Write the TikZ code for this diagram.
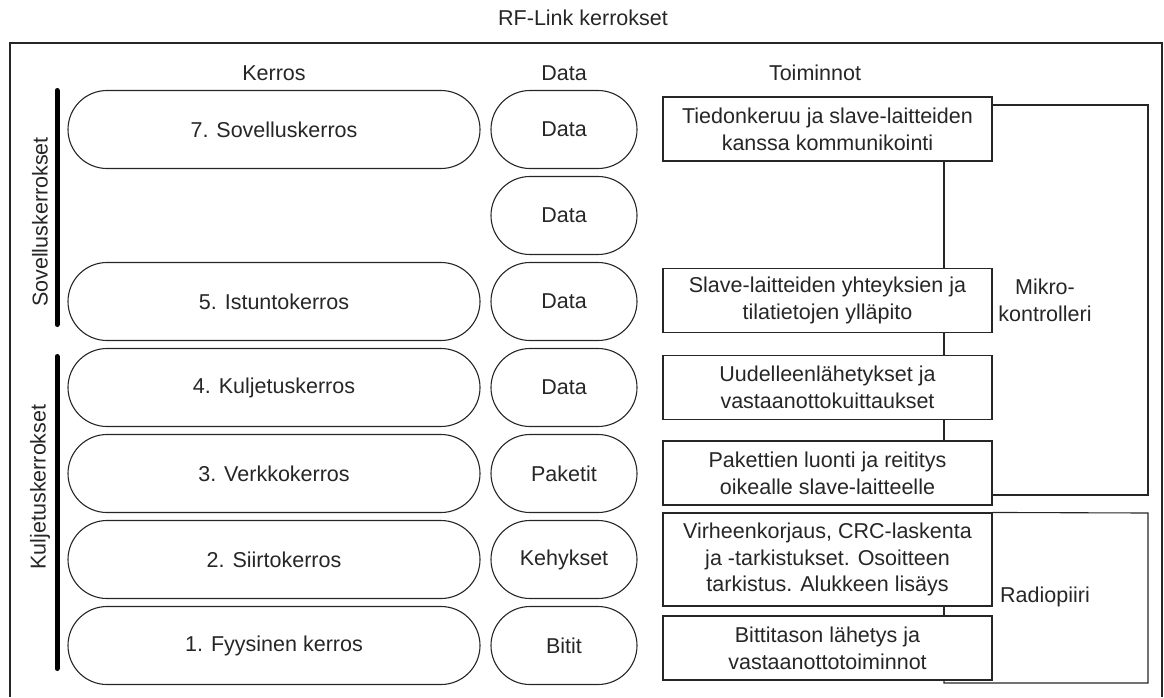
\documentclass[tikz,border=0pt]{standalone}
\usepackage{fontspec}
\setmainfont{Liberation Sans}
\usetikzlibrary{calc}

\begin{document}
\begin{tikzpicture}[x=1pt,y=-1pt,font=\fontsize{21.5}{26.7}\selectfont,text=black!85]
                      \tikzstyle{layer}=[draw=black!85,line width=1.1pt,rounded corners=39pt,minimum width=412pt,minimum height=78pt,inner sep=0pt]
                      \tikzstyle{unit}=[layer,minimum width=146pt]
                      \tikzstyle{func}=[draw=black!85,line width=1.1pt,minimum width=329pt,minimum height=64pt,inner sep=0pt,align=center]
                      \tikzstyle{bar}=[line width=5pt,line cap=round]
                      \useasboundingbox (0,0) rectangle (1164,697);
                      % frame and headers
                      \draw[line width=1.1pt,draw=black!85] (10,697) -- (10,43) -- (1162,43) -- (1162,697);
                      \node (title) at (583,18) {RF-Link kerrokset};
                      \node (hk) at (274,73) {Kerros};
                      \node (hd) at (564,73) {Data};
                      \node (ht) at (815,73) {Toiminnot};
                      % layers
                      \node[layer] (k7) at (274,129.5) {7. Sovelluskerros};
                      \node[layer] (k5) at (274,301.5) {5. Istuntokerros};
                      \node[layer] (k4) at (274,387.5) {4. Kuljetuskerros};
                      \node[layer] (k3) at (274,473.5) {3. Verkkokerros};
                      \node[layer] (k2) at (274,559.5) {2. Siirtokerros};
                      \node[layer] (k1) at (274,645.5) {1. Fyysinen kerros};
                      % data units
                      \node[unit] (d7) at (564,129.5) {Data};
                      \node[unit] (d6) at (564,215.5) {Data};
                      \node[unit] (d5) at (564,301.5) {Data};
                      \node[unit] (d4) at (564,387.5) {Data};
                      \node[unit] (d3) at (564,473.5) {Paketit};
                      \node[unit] (d2) at (564,559.5) {Kehykset};
                      \node[unit] (d1) at (564,645.5) {Bitit};
                      % groups
                      \draw[bar] (57,90.5) -- (57,324.5);
                      \draw[bar] (57,356.5) -- (57,668.5);
                      \node[rotate=90] (gs) at (40,222) {Sovelluskerrokset};
                      \node[rotate=90] (gk) at (40,487) {Kuljetuskerrokset};
                      % functions
                      \node[func] (t7) at (827.5,129) {Tiedonkeruu ja slave-laitteiden\\kanssa kommunikointi};
                      \node[func] (t5) at (827.5,300.5) {Slave-laitteiden yhteyksien ja\\tilatietojen ylläpito};
                      \node[func] (t4) at (827.5,387.5) {Uudelleenlähetykset ja\\vastaanottokuittaukset};
                      \node[func] (t3) at (827.5,473) {Pakettien luonti ja reititys\\oikealle slave-laitteelle};
                      \node[func,minimum height=93pt] (t2) at (827.5,559.5) {Virheenkorjaus, CRC-laskenta\\ja -tarkistukset. Osoitteen\\tarkistus. Alukkeen lisäys};
                      \node[func] (t1) at (827.5,648) {Bittitason lähetys ja\\vastaanottotoiminnot};
                      \coordinate (v) at (944,0);
                      \draw[line width=1.1pt,draw=black!85] (t7.south -| v) -- (t5.north -| v);
                      \draw[line width=1.1pt,draw=black!85] (t5.south -| v) -- (t4.north -| v);
                      \draw[line width=1.1pt,draw=black!85] (t4.south -| v) -- (t3.north -| v);
                      \draw[line width=1.1pt,draw=black!85] (t2.south -| v) -- (t1.north -| v);
                      % hardware
                      \coordinate (m1) at (1148,105);
                      \coordinate (m2) at (1148,495);
                      \draw[line width=1.1pt,draw=black!85] (m1 -| t7.east) -- (m1) -- (m2) -- (m2 -| t3.east);
                      \node[align=center] (mk) at (1045,300) {Mikro-\\kontrolleri};
                      \coordinate (r1) at (1148,513);
                      \coordinate (r2) at (1148,683);
                      \draw[line width=1.1pt,draw=black!85] (t2.north east) -- (r1) -- (r2) -- (r2 -| v) -- (t1.south -| v);
                      \node (rp) at (1045,597) {Radiopiiri};
                  \end{tikzpicture}
\end{document}
